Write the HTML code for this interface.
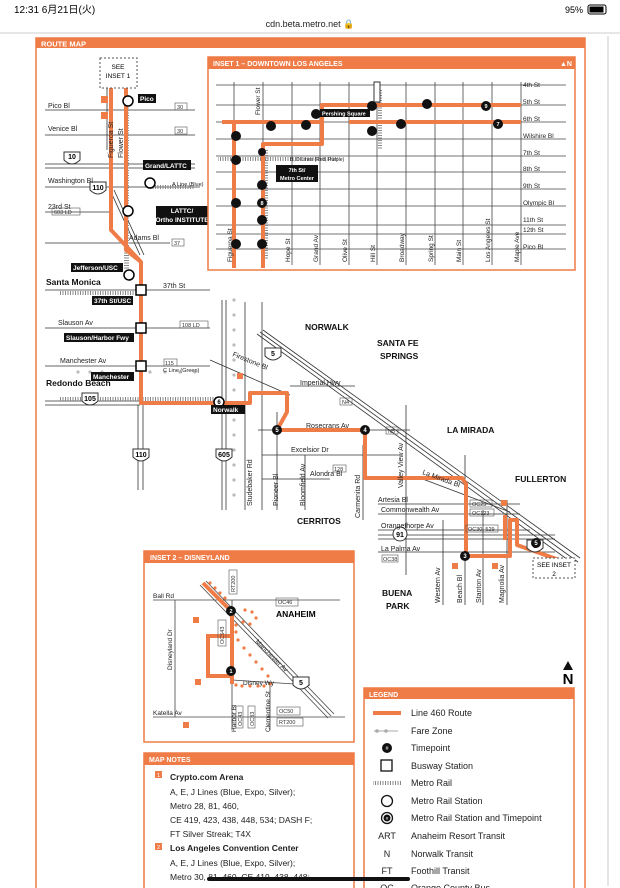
<!DOCTYPE html>
<html><head><meta charset="utf-8"><style>
html,body{margin:0;padding:0;background:#fff;width:620px;height:888px;overflow:hidden}
svg{display:block}
text{font-family:"Liberation Sans","Noto Sans CJK JP",sans-serif}
</style></head><body>
<svg width="620" height="888" viewBox="0 0 620 888" xmlns="http://www.w3.org/2000/svg">
<defs>
<pattern id="rail" width="2.5" height="4" patternUnits="userSpaceOnUse"><rect width="1" height="4" fill="#888"/></pattern>
<pattern id="railv" width="4" height="2.5" patternUnits="userSpaceOnUse"><rect width="4" height="1" fill="#888"/></pattern>
</defs>
<!-- status bar -->
<text x="14" y="13" font-size="10" fill="#000">12:31  6月21日(火)</text>
<text x="310" y="27" font-size="9" fill="#222" text-anchor="middle">cdn.beta.metro.net 🔒</text>
<text x="565" y="13" font-size="9" fill="#000">95%</text>
<rect x="588" y="5" width="18" height="9" rx="2" fill="none" stroke="#000"/><rect x="589.5" y="6.5" width="14" height="6" fill="#000"/>
<line x1="0" y1="33" x2="620" y2="33" stroke="#ccc"/>
<rect x="607" y="36" width="2" height="850" fill="#e5e5e5"/>

<!-- outer frame -->
<rect x="36" y="38" width="549" height="860" fill="#fff" stroke="#ef7c47" stroke-width="1.5"/>
<rect x="36" y="38" width="549" height="10" fill="#ef7c47"/>
<text x="41" y="46.5" font-size="7.5" font-weight="bold" fill="#fff">ROUTE MAP</text>

<g stroke="#333" stroke-width="0.8" fill="none">
<!-- left area streets -->
<line x1="45" y1="110" x2="195" y2="110"/>
<line x1="45" y1="135" x2="195" y2="135"/>
<line x1="45" y1="187" x2="200" y2="187"/>
<line x1="45" y1="212" x2="110" y2="212"/>
<line x1="45" y1="243" x2="170" y2="243"/>
<line x1="45" y1="290" x2="210" y2="290"/>
<line x1="45" y1="328" x2="210" y2="328"/>
<line x1="45" y1="366" x2="210" y2="366"/>
<!-- middle verticals -->
<line x1="245" y1="302" x2="245" y2="510"/>
<line x1="262" y1="302" x2="262" y2="510"/>
<line x1="277" y1="412" x2="277" y2="510"/>
<line x1="305" y1="455" x2="305" y2="510"/>
<line x1="363" y1="445" x2="363" y2="520"/>
<line x1="406" y1="405" x2="406" y2="575"/>
<line x1="443" y1="520" x2="443" y2="605"/>
<line x1="465" y1="455" x2="465" y2="605"/>
<line x1="483" y1="510" x2="483" y2="605"/>
<line x1="507" y1="500" x2="507" y2="605"/>
<!-- middle horizontals -->
<line x1="290" y1="386" x2="355" y2="386"/>
<line x1="258" y1="430" x2="410" y2="430"/>
<line x1="262" y1="455" x2="400" y2="455"/>
<line x1="262" y1="479" x2="330" y2="479"/>
<line x1="378" y1="504" x2="520" y2="504"/>
<line x1="378" y1="514" x2="520" y2="514"/>
<line x1="378" y1="530" x2="530" y2="530"/>
<line x1="378" y1="552" x2="555" y2="552"/>
<line x1="210" y1="360" x2="290" y2="395"/>
<line x1="420" y1="478" x2="510" y2="512"/>
</g>
<!-- freeways -->
<g stroke="#333" stroke-width="0.8" fill="none">
<line x1="107" y1="85" x2="107" y2="150"/><line x1="110" y1="85" x2="110" y2="150"/>
<line x1="45" y1="164" x2="195" y2="164"/><line x1="45" y1="168" x2="195" y2="168"/>
<line x1="45" y1="401" x2="140" y2="401"/><line x1="45" y1="405" x2="140" y2="405"/>
<line x1="138" y1="405" x2="138" y2="490"/><line x1="143" y1="405" x2="143" y2="490"/>
<line x1="222" y1="300" x2="222" y2="510"/><line x1="226" y1="300" x2="226" y2="510"/>
<line x1="257" y1="334" x2="575" y2="565"/><line x1="260" y1="332" x2="578" y2="562"/><line x1="263" y1="330" x2="580" y2="558"/>
<line x1="378" y1="535" x2="555" y2="535"/><line x1="378" y1="539" x2="555" y2="539"/>
<line x1="110" y1="190" x2="140" y2="255"/><line x1="114" y1="190" x2="144" y2="255"/>
</g>
<!-- metro rail -->
<rect x="124" y="95" width="5" height="175" fill="url(#railv)"/>
<rect x="60" y="291" width="75" height="4" fill="url(#rail)"/>
<rect x="60" y="397" width="160" height="4" fill="url(#rail)"/>
<rect x="150" y="185" width="45" height="4" fill="url(#rail)"/>
<g fill="#bbb"><circle cx="234" cy="300" r="1.6"/><circle cx="234" cy="315" r="1.6"/><circle cx="234" cy="330" r="1.6"/><circle cx="234" cy="345" r="1.6"/><circle cx="234" cy="360" r="1.6"/><circle cx="234" cy="375" r="1.6"/><circle cx="234" cy="390" r="1.6"/><circle cx="234" cy="405" r="1.6"/><circle cx="234" cy="420" r="1.6"/><circle cx="234" cy="435" r="1.6"/><circle cx="234" cy="450" r="1.6"/><circle cx="234" cy="465" r="1.6"/><circle cx="234" cy="480" r="1.6"/><circle cx="234" cy="495" r="1.6"/>
<circle cx="78" cy="372" r="1.6"/><circle cx="90" cy="372" r="1.6"/><circle cx="102" cy="372" r="1.6"/><circle cx="150" cy="372" r="1.6"/><circle cx="165" cy="372" r="1.6"/><circle cx="180" cy="372" r="1.6"/><circle cx="195" cy="372" r="1.6"/></g>

<!-- route main -->
<g stroke="#ef7c47" stroke-width="4" fill="none" stroke-linejoin="round">
<path d="M111 88 V230 L141 262 V403 H250 V393 H287 V412 L277 430 H365 V478 H462 L466 484 V556 H510 V520 H517 V545 L565 562"/>
<path d="M126 88 V250 L141 262"/>
<path d="M505 515 V540"/>
</g>
<!-- shields -->
<g font-size="7" font-weight="bold" text-anchor="middle">
<path d="M64 152 h16 v8 q-8 8 -16 0z" fill="#fff" stroke="#333"/><text x="72" y="159">10</text>
<path d="M90 182 h16 v8 q-8 8 -16 0z" fill="#fff" stroke="#333"/><text x="98" y="190">110</text>
<path d="M82 393 h16 v8 q-8 8 -16 0z" fill="#fff" stroke="#333"/><text x="90" y="401">105</text>
<path d="M133 449 h16 v8 q-8 8 -16 0z" fill="#fff" stroke="#333"/><text x="141" y="457">110</text>
<path d="M216 449 h16 v8 q-8 8 -16 0z" fill="#fff" stroke="#333"/><text x="224" y="457">605</text>
<path d="M265 348 h16 v8 q-8 8 -16 0z" fill="#fff" stroke="#333"/><text x="273" y="356">5</text>
<path d="M527 540 h16 v8 q-8 8 -16 0z" fill="#fff" stroke="#333"/><text x="535" y="548">5</text>
<circle cx="400" cy="534" r="7" fill="#fff" stroke="#333"/><text x="400" y="537">91</text>
</g>
<!-- see inset boxes -->
<rect x="100" y="58" width="37" height="30" fill="#fff" stroke="#555" stroke-dasharray="2,2"/>
<text x="118" y="69" font-size="6.5" text-anchor="middle">SEE</text><text x="118" y="78" font-size="6.5" text-anchor="middle">INSET 1</text>
<rect x="533" y="558" width="42" height="20" fill="#fff" stroke="#555" stroke-dasharray="2,2"/>
<text x="554" y="567" font-size="6.5" text-anchor="middle">SEE INSET</text><text x="554" y="576" font-size="6.5" text-anchor="middle">2</text>

<!-- stations -->
<g fill="#fff" stroke="#000" stroke-width="1.5">
<circle cx="128" cy="101" r="5"/><circle cx="150" cy="183" r="5"/><circle cx="128" cy="211" r="5"/><circle cx="129" cy="275" r="5"/>
<rect x="136" y="285" width="10" height="10"/><rect x="136" y="323" width="10" height="10"/><rect x="136" y="361" width="10" height="10"/>
<circle cx="219" cy="402" r="5"/>
</g>
<g fill="#111"><circle cx="277" cy="430" r="5"/><circle cx="365" cy="430" r="5"/><circle cx="465" cy="556" r="5"/><circle cx="536" cy="543" r="5"/></g>
<g font-size="6" fill="#fff" text-anchor="middle" font-weight="bold"><text x="277" y="432">5</text><text x="365" y="432">4</text><text x="465" y="558">3</text><text x="536" y="545">5</text><text x="219" y="404" fill="#000">6</text></g>

<!-- black labels -->
<g font-size="6.5" font-weight="bold">
<rect x="138" y="94" width="18" height="9" fill="#111"/><text x="140" y="101" fill="#fff">Pico</text>
<rect x="143" y="160" width="48" height="10" fill="#111"/><text x="145" y="168" fill="#fff">Grand/LATTC</text>
<rect x="156" y="206" width="52" height="19" fill="#111"/><text x="182" y="213" fill="#fff" text-anchor="middle">LATTC/</text><text x="182" y="222" fill="#fff" text-anchor="middle">Ortho INSTITUTE</text>
<rect x="71" y="263" width="52" height="9" fill="#111"/><text x="73" y="270" fill="#fff">Jefferson/USC</text>
<rect x="92" y="296" width="41" height="9" fill="#111"/><text x="94" y="303" fill="#fff">37th St/USC</text>
<rect x="64" y="333" width="70" height="9" fill="#111"/><text x="66" y="340" fill="#fff">Slauson/Harbor Fwy</text>
<rect x="91" y="372" width="43" height="9" fill="#111"/><text x="93" y="379" fill="#fff">Manchester</text>
<rect x="211" y="405" width="34" height="9" fill="#111"/><text x="213" y="412" fill="#fff">Norwalk</text>
</g>
<!-- street labels -->
<g font-size="7" fill="#222">
<text x="48" y="108">Pico Bl</text><text x="48" y="131">Venice Bl</text><text x="48" y="183">Washington Bl</text><text x="48" y="209">23rd St</text><text x="129" y="240">Adams Bl</text>
<text x="163" y="288">37th St</text><text x="58" y="325">Slauson Av</text><text x="60" y="363">Manchester Av</text>
<text x="163" y="372" font-size="5.5">C Line (Green)</text><text x="172" y="186" font-size="5.5">A Line (Blue)</text>
<text x="300" y="385">Imperial Hwy</text><text x="306" y="428">Rosecrans Av</text><text x="291" y="452">Excelsior Dr</text><text x="310" y="476">Alondra Bl</text>
<text x="378" y="502">Artesia Bl</text><text x="381" y="512">Commonwealth Av</text><text x="381" y="528">Orangethorpe Av</text><text x="381" y="551">La Palma Av</text>
<text x="0" y="0" transform="translate(232 356) rotate(22)">Firestone Bl</text>
<text x="0" y="0" transform="translate(422 474) rotate(20)">La Mirada Bl</text>
<text transform="translate(113 158) rotate(-90)">Figueroa St</text>
<text transform="translate(123 158) rotate(-90)">Flower St</text>
<text transform="translate(252 506) rotate(-90)">Studebaker Rd</text>
<text transform="translate(278 506) rotate(-90)">Pioneer Bl</text>
<text transform="translate(305 506) rotate(-90)">Bloomfield Av</text>
<text transform="translate(360 518) rotate(-90)">Carmenita Rd</text>
<text transform="translate(403 488) rotate(-90)">Valley View Av</text>
<text transform="translate(440 603) rotate(-90)">Western Av</text>
<text transform="translate(462 603) rotate(-90)">Beach Bl</text>
<text transform="translate(481 603) rotate(-90)">Stanton Av</text>
<text transform="translate(504 603) rotate(-90)">Magnolia Av</text>
</g>
<g font-size="8.5" font-weight="bold" fill="#111">
<text x="46" y="285">Santa Monica</text><text x="46" y="386">Redondo Beach</text>
<text x="305" y="330">NORWALK</text><text x="377" y="346">SANTA FE</text><text x="380" y="359">SPRINGS</text>
<text x="447" y="433">LA MIRADA</text><text x="515" y="482">FULLERTON</text><text x="297" y="524">CERRITOS</text>
<text x="382" y="596">BUENA</text><text x="386" y="609">PARK</text>
</g>
<g fill="#ef7c47"><rect x="101" y="96" width="7" height="7"/><rect x="101" y="112" width="7" height="7"/><rect x="237" y="373" width="6" height="6"/><rect x="452" y="563" width="6" height="6"/><rect x="492" y="563" width="6" height="6"/><rect x="501" y="500" width="6" height="6"/></g>
<g font-size="5.5" fill="#333">
<rect x="175" y="103" width="12" height="7" fill="none" stroke="#555" stroke-width="0.6"/><text x="177" y="109">30</text>
<rect x="175" y="127" width="12" height="7" fill="none" stroke="#555" stroke-width="0.6"/><text x="177" y="133">30</text>
<rect x="52" y="208" width="28" height="7" fill="none" stroke="#555" stroke-width="0.6"/><text x="54" y="214">603 LD</text>
<rect x="172" y="239" width="12" height="7" fill="none" stroke="#555" stroke-width="0.6"/><text x="174" y="245">37</text>
<rect x="180" y="321" width="28" height="7" fill="none" stroke="#555" stroke-width="0.6"/><text x="182" y="327">108 LD</text>
<rect x="164" y="359" width="13" height="7" fill="none" stroke="#555" stroke-width="0.6"/><text x="165" y="365">115</text>
<rect x="340" y="398" width="12" height="7" fill="none" stroke="#555" stroke-width="0.6"/><text x="342" y="404">N4</text>
<rect x="386" y="427" width="12" height="7" fill="none" stroke="#555" stroke-width="0.6"/><text x="388" y="433">N5</text>
<rect x="333" y="465" width="13" height="7" fill="none" stroke="#555" stroke-width="0.6"/><text x="334" y="471">128</text>
<rect x="470" y="500" width="22" height="7" fill="none" stroke="#555" stroke-width="0.6"/><text x="472" y="506">OC25</text>
<rect x="470" y="509" width="24" height="7" fill="none" stroke="#555" stroke-width="0.6"/><text x="472" y="515">OC123</text>
<rect x="466" y="525" width="32" height="7" fill="none" stroke="#555" stroke-width="0.6"/><text x="468" y="531">OC30, 529</text>
<rect x="382" y="555" width="16" height="7" fill="none" stroke="#555" stroke-width="0.6"/><text x="383" y="561">OC38</text>
</g>

<!-- INSET 1 -->
<rect x="208" y="57" width="367" height="213" fill="#fff" stroke="#ef7c47" stroke-width="1.5"/>
<rect x="208" y="57" width="367" height="12" fill="#ef7c47"/>
<text x="213" y="66" font-size="7" font-weight="bold" fill="#fff">INSET 1 – DOWNTOWN LOS ANGELES</text>
<text x="560" y="66" font-size="7" font-weight="bold" fill="#fff">▲N</text>
<g stroke="#444" stroke-width="0.8">
<line x1="216" y1="85" x2="566" y2="85"/><line x1="216" y1="105" x2="566" y2="105"/><line x1="216" y1="122" x2="566" y2="122"/><line x1="216" y1="139" x2="566" y2="139"/><line x1="216" y1="156" x2="566" y2="156"/><line x1="216" y1="172" x2="566" y2="172"/><line x1="216" y1="189" x2="566" y2="189"/><line x1="216" y1="206" x2="566" y2="206"/><line x1="216" y1="225" x2="566" y2="225"/><line x1="216" y1="234" x2="566" y2="234"/><line x1="216" y1="249" x2="566" y2="249"/>
<line x1="234" y1="82" x2="234" y2="265"/><line x1="263" y1="82" x2="263" y2="265"/><line x1="292" y1="82" x2="292" y2="265"/><line x1="320" y1="82" x2="320" y2="265"/><line x1="349" y1="82" x2="349" y2="265"/><line x1="377" y1="82" x2="377" y2="265"/><line x1="406" y1="82" x2="406" y2="265"/><line x1="435" y1="82" x2="435" y2="265"/><line x1="463" y1="82" x2="463" y2="265"/><line x1="492" y1="82" x2="492" y2="265"/><line x1="521" y1="82" x2="521" y2="265"/>
</g>
<rect x="218" y="157" width="120" height="4" fill="url(#rail)"/>
<rect x="264" y="150" width="4" height="110" fill="url(#railv)"/>
<rect x="378" y="90" width="4" height="60" fill="url(#railv)"/>
<g stroke="#ef7c47" stroke-width="4" fill="none" stroke-linejoin="round">
<path d="M234 268 V124 M222 122 H322 V105 H521 M349 122 H521 M322 122 V144 H263 V268"/>
</g>
<rect x="374" y="82" width="6" height="20" fill="#fff" stroke="#333"/>
<g fill="#111">
<circle cx="236" cy="136" r="5"/><circle cx="236" cy="160" r="5"/><circle cx="236" cy="203" r="5"/><circle cx="236" cy="244" r="5"/>
<circle cx="262" cy="185" r="5"/><circle cx="262" cy="220" r="5"/><circle cx="262" cy="244" r="5"/><circle cx="262" cy="203" r="5"/><circle cx="262" cy="152" r="4"/>
<circle cx="271" cy="126" r="5"/><circle cx="306" cy="125" r="5"/><circle cx="316" cy="114" r="5"/><circle cx="372" cy="106" r="5"/><circle cx="372" cy="131" r="5"/><circle cx="401" cy="124" r="5"/><circle cx="427" cy="104" r="5"/><circle cx="486" cy="106" r="5"/><circle cx="498" cy="124" r="5"/>
</g>
<g font-size="5.5" font-weight="bold" fill="#fff" text-anchor="middle"><text x="262" y="205">8</text><text x="486" y="108">9</text><text x="498" y="126">7</text></g>
<rect x="320" y="109" width="50" height="8" fill="#111"/><text x="322" y="115.5" font-size="5.5" font-weight="bold" fill="#fff">Pershing Square</text>
<rect x="276" y="165" width="42" height="17" fill="#111"/><text x="297" y="172" font-size="5.5" font-weight="bold" fill="#fff" text-anchor="middle">7th St/</text><text x="297" y="180" font-size="5.5" font-weight="bold" fill="#fff" text-anchor="middle">Metro Center</text>
<text x="290" y="161" font-size="5" fill="#222">B, D Lines (Red, Purple)</text>
<g font-size="6.5" fill="#222">
<text x="523" y="87">4th St</text><text x="523" y="104">5th St</text><text x="523" y="121">6th St</text><text x="523" y="138">Wilshire Bl</text><text x="523" y="155">7th St</text><text x="523" y="171">8th St</text><text x="523" y="188">9th St</text><text x="523" y="205">Olympic Bl</text><text x="523" y="222">11th St</text><text x="523" y="232">12th St</text><text x="523" y="249">Pico Bl</text>
<text transform="translate(232 262) rotate(-90)">Figueroa St</text>
<text transform="translate(260 115) rotate(-90)">Flower St</text>
<text transform="translate(290 262) rotate(-90)">Hope St</text>
<text transform="translate(318 262) rotate(-90)">Grand Av</text>
<text transform="translate(347 262) rotate(-90)">Olive St</text>
<text transform="translate(375 262) rotate(-90)">Hill St</text>
<text transform="translate(404 262) rotate(-90)">Broadway</text>
<text transform="translate(433 262) rotate(-90)">Spring St</text>
<text transform="translate(461 262) rotate(-90)">Main St</text>
<text transform="translate(490 262) rotate(-90)">Los Angeles St</text>
<text transform="translate(519 262) rotate(-90)">Maple Ave</text>
</g>

<!-- INSET 2 -->
<rect x="144" y="551" width="210" height="191" fill="#fff" stroke="#ef7c47" stroke-width="1.5"/>
<rect x="144" y="551" width="210" height="12" fill="#ef7c47"/>
<text x="150" y="560" font-size="7" font-weight="bold" fill="#fff">INSET 2 – DISNEYLAND</text>
<g stroke="#444" stroke-width="0.8" fill="none">
<line x1="153" y1="600" x2="340" y2="600"/><line x1="153" y1="717" x2="345" y2="717"/>
<line x1="175" y1="600" x2="175" y2="717"/><line x1="232" y1="600" x2="232" y2="730"/><line x1="232" y1="680" x2="310" y2="685"/>
<line x1="270" y1="685" x2="270" y2="730"/>
<line x1="200" y1="585" x2="328" y2="718"/><line x1="203" y1="583" x2="331" y2="716"/><line x1="206" y1="581" x2="334" y2="714"/>
</g>
<path d="M203 583 L232 612 V684 M232 636 H208 V676 H232" stroke="#ef7c47" stroke-width="4" fill="none"/>
<g fill="#ef7c47"><circle cx="210" cy="583" r="1.6"/><circle cx="215" cy="588" r="1.6"/><circle cx="220" cy="593" r="1.6"/><circle cx="225" cy="598" r="1.6"/><circle cx="245" cy="610" r="1.6"/><circle cx="252" cy="612" r="1.6"/><circle cx="256" cy="618" r="1.6"/><circle cx="250" cy="624" r="1.6"/><circle cx="243" cy="622" r="1.6"/><circle cx="236" cy="625" r="1.6"/><circle cx="236" cy="632" r="1.6"/><circle cx="238" cy="640" r="1.6"/><circle cx="244" cy="648" r="1.6"/><circle cx="250" cy="655" r="1.6"/><circle cx="256" cy="662" r="1.6"/><circle cx="262" cy="669" r="1.6"/><circle cx="268" cy="676" r="1.6"/><circle cx="270" cy="684" r="1.6"/><circle cx="236" cy="685" r="1.6"/><circle cx="242" cy="686" r="1.6"/><circle cx="250" cy="686" r="1.6"/><circle cx="258" cy="686" r="1.6"/><circle cx="264" cy="686" r="1.6"/>
<rect x="193" y="617" width="6" height="6"/><rect x="195" y="679" width="6" height="6"/><rect x="183" y="722" width="6" height="6"/></g>
<circle cx="231" cy="611" r="5" fill="#111"/><circle cx="231" cy="671" r="5" fill="#111"/>
<g font-size="5.5" font-weight="bold" fill="#fff" text-anchor="middle"><text x="231" y="613">2</text><text x="231" y="673">1</text></g>
<path d="M293 677 h16 v8 q-8 8 -16 0z" fill="#fff" stroke="#333"/><text x="301" y="685" font-size="7" font-weight="bold" text-anchor="middle">5</text>
<text x="276" y="617" font-size="8.5" font-weight="bold">ANAHEIM</text>
<g font-size="6.5" fill="#222">
<text x="153" y="598">Ball Rd</text><text x="153" y="715">Katella Av</text><text x="243" y="685">Disney Wy</text>
<text transform="translate(172 670) rotate(-90)">Disneyland Dr</text>
<text transform="translate(236 732) rotate(-90)">Harbor Bl</text>
<text transform="translate(270 732) rotate(-90)">Clementine St</text>
<text transform="translate(255 642) rotate(45)">Manchester Av</text>
</g>
<g font-size="5.5" fill="#333">
<rect x="229" y="570" width="8" height="24" fill="none" stroke="#555" stroke-width="0.6"/><text transform="translate(235 592) rotate(-90)">RT200</text>
<rect x="276" y="598" width="22" height="8" fill="none" stroke="#555" stroke-width="0.6"/><text x="278" y="604">OC46</text>
<rect x="218" y="620" width="8" height="26" fill="none" stroke="#555" stroke-width="0.6"/><text transform="translate(224 644) rotate(-90)">OC543</text>
<rect x="236" y="706" width="7" height="22" fill="none" stroke="#555" stroke-width="0.6"/><text transform="translate(242 726) rotate(-90)">OC43</text>
<rect x="248" y="706" width="7" height="22" fill="none" stroke="#555" stroke-width="0.6"/><text transform="translate(254 726) rotate(-90)">OC83</text>
<rect x="277" y="707" width="23" height="8" fill="none" stroke="#555" stroke-width="0.6"/><text x="279" y="713">OC50</text>
<rect x="277" y="718" width="26" height="8" fill="none" stroke="#555" stroke-width="0.6"/><text x="279" y="724">RT200</text>
</g>

<!-- North arrow -->
<polygon points="568,661 563,670 573,670" fill="#111"/>
<text x="568" y="684" font-size="15" font-weight="bold" text-anchor="middle">N</text>

<!-- MAP NOTES -->
<rect x="144" y="753" width="210" height="140" fill="#fff" stroke="#ef7c47" stroke-width="1.5"/>
<rect x="144" y="753" width="210" height="12" fill="#ef7c47"/>
<text x="149" y="762" font-size="7" font-weight="bold" fill="#fff">MAP NOTES</text>
<rect x="155" y="771" width="7" height="7" fill="#ef7c47"/><text x="158.5" y="777" font-size="5.5" fill="#fff" text-anchor="middle">1</text>
<rect x="155" y="843" width="7" height="7" fill="#ef7c47"/><text x="158.5" y="849" font-size="5.5" fill="#fff" text-anchor="middle">2</text>
<g font-size="8.5" fill="#222">
<text x="170" y="780" font-weight="bold">Crypto.com Arena</text>
<text x="170" y="795">A, E, J Lines (Blue, Expo, Silver);</text>
<text x="170" y="809">Metro 28, 81, 460,</text>
<text x="170" y="823">CE 419, 423, 438, 448, 534; DASH F;</text>
<text x="170" y="837">FT Silver Streak; T4X</text>
<text x="170" y="851" font-weight="bold">Los Angeles Convention Center</text>
<text x="170" y="866">A, E, J Lines (Blue, Expo, Silver);</text>
<text x="170" y="880">Metro 30, 81, 460, CE 419, 438, 448;</text>
</g>

<!-- LEGEND -->
<rect x="364" y="688" width="210" height="205" fill="#fff" stroke="#ef7c47" stroke-width="1.5"/>
<rect x="364" y="688" width="210" height="11" fill="#ef7c47"/>
<text x="369" y="697" font-size="7" font-weight="bold" fill="#fff">LEGEND</text>
<rect x="373" y="711" width="28" height="4" fill="#ef7c47"/>
<line x1="374" y1="731" x2="398" y2="731" stroke="#aaa"/><circle cx="377" cy="731" r="1.8" fill="#aaa"/><circle cx="386" cy="731" r="1.8" fill="#aaa"/>
<circle cx="387" cy="748" r="5" fill="#111"/><text x="387" y="750" font-size="5.5" fill="#fff" text-anchor="middle">#</text>
<rect x="381" y="760" width="11" height="11" fill="none" stroke="#111" stroke-width="1.3"/>
<rect x="373" y="781" width="28" height="4" fill="url(#rail)"/>
<circle cx="387" cy="801" r="5.5" fill="#fff" stroke="#111" stroke-width="1.3"/>
<circle cx="387" cy="818" r="5.5" fill="#fff" stroke="#111" stroke-width="1.3"/><circle cx="387" cy="818" r="3.5" fill="#111"/><text x="387" y="820" font-size="4.5" fill="#fff" text-anchor="middle">#</text>
<g font-size="9" fill="#222">
<text x="411" y="716">Line  460 Route</text><text x="411" y="734">Fare Zone</text><text x="411" y="751">Timepoint</text><text x="411" y="769">Busway Station</text><text x="411" y="786">Metro Rail</text><text x="411" y="804">Metro Rail Station</text><text x="411" y="821">Metro Rail Station and Timepoint</text><text x="411" y="839">Anaheim Resort Transit</text><text x="411" y="857">Norwalk Transit</text><text x="411" y="874">Foothill Transit</text><text x="411" y="891">Orange County Bus</text>
<text x="387" y="839" text-anchor="middle">ART</text><text x="387" y="857" text-anchor="middle">N</text><text x="387" y="874" text-anchor="middle">FT</text><text x="387" y="891" text-anchor="middle">OC</text>
</g>
<rect x="207" y="877" width="203" height="4" rx="2" fill="#111"/>
</svg>
</body></html>
